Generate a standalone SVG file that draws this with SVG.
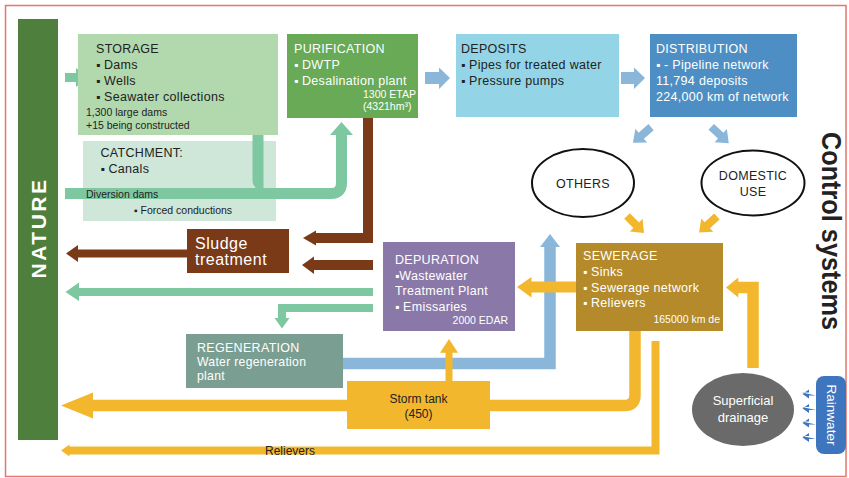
<svg xmlns="http://www.w3.org/2000/svg" width="849" height="478" viewBox="0 0 849 478">
<style>
text{font-family:"Liberation Sans",Arial,sans-serif;font-size:12.5px;letter-spacing:0.3px;fill:#222}
.s{font-size:10.5px;letter-spacing:0}
.w{fill:#fff}
.b{font-size:12px;letter-spacing:0}
.gr{fill:#7ec8a1}.grs{stroke:#7ec8a1;fill:none}
.bl{fill:#8ab6d9}.bls{stroke:#8ab6d9;fill:none}
.br{fill:#7a3a17}.brs{stroke:#7a3a17;fill:none}
.or{fill:#f2b72c}.ors{stroke:#f2b72c;fill:none}
</style>
<defs>
<path id="da" d="M-12,-4 H1 V-9 L12,0 L1,9 V4 H-12 Z"/>
<path id="ra" d="M-7,-1.5 H0 V-4.5 L-6.5,0 L0,4.5 V1.5 H7 Z"/>
</defs>
<rect x="5.5" y="5.5" width="840.5" height="471" fill="none" stroke="#e2776b" stroke-width="1.5"/>

<g id="connectors">
<polygon class="gr" points="65,73 76,73 76,68 88,77.5 76,87 76,82 65,82"/>
<path class="grs" stroke-width="11" d="M65,193.5 H331 Q341.5,193.5 341.5,183 V134"/>
<polygon class="gr" points="330,135 341.5,122 353,135"/>
<polygon class="bl" points="425,72 439,72 439,67.5 450,78 439,89 439,84 425,84"/>
<polygon class="bl" points="621,72 634,72 634,67.5 645,78 634,89 634,84 621,84"/>
<use href="#da" class="bl" transform="translate(642,135) rotate(139)"/>
<use href="#da" class="bl" transform="translate(720,135) rotate(43)"/>
<use href="#da" class="or" transform="translate(635.5,224.5) rotate(45)"/>
<use href="#da" class="or" transform="translate(708,224.5) rotate(138)"/>
<path class="brs" stroke-width="10" d="M368,118 V238 H315"/>
<polygon class="br" points="316,230.5 303,238 316,245.5"/>
<polygon class="br" points="373,260 314,260 314,256.5 302,265 314,274 314,270 373,270"/>
<polygon class="br" points="187,249.5 78,249.5 78,245 66,253.5 78,262 78,257.5 187,257.5"/>
<polygon class="gr" points="373,288 79,288 79,282.5 65.5,292 79,301 79,296 373,296"/>
<path class="grs" stroke-width="8" d="M373,308 H282 V319"/>
<polygon class="gr" points="274.5,318 282,328.5 289.5,318"/>
<path class="bls" stroke-width="11.5" d="M343,363.5 H550 V246"/>
<polygon class="bl" points="540,247 550,234 560,247"/>
<polygon class="or" points="576,281.5 531.5,281.5 531.5,277 517,287 531.5,297.5 531.5,292.5 576,292.5"/>
<rect class="or" x="445.5" y="351" width="7" height="31"/>
<polygon class="or" points="440,352.7 449,339 458,352.7"/>
<path class="ors" stroke-width="11.5" d="M635,331 V395 Q635,405.5 624.5,405.5 H92"/>
<polygon class="or" points="93,392.5 61,405.5 93,418.5"/>
<path class="ors" stroke-width="8" d="M655.5,341 V450.5 H69"/>
<polygon class="or" points="69.5,444.5 61,450.5 69.5,456.5"/>
<path class="ors" stroke-width="11.5" d="M753,368 V287.5 H737"/>
<polygon class="or" points="738.3,277.5 726,287.5 738.3,297.5"/>
<use href="#ra" fill="#3d76bf" transform="translate(809,394)"/>
<use href="#ra" fill="#3d76bf" transform="translate(809,408.5)"/>
<use href="#ra" fill="#3d76bf" transform="translate(809,423)"/>
<use href="#ra" fill="#3d76bf" transform="translate(809,437.5)"/>
</g>

<g id="nature">
<rect x="18" y="19" width="40" height="421" fill="#4e7f3d"/>
<text class="w" transform="translate(45.5,228) rotate(-90)" text-anchor="middle" style="font-size:21px;font-weight:bold;letter-spacing:2.5px">NATURE</text>
</g>

<g id="storage">
<rect x="78" y="34" width="200" height="101" fill="#b2d8ae"/>
<text x="96" y="53">STORAGE</text>
<text x="96" y="69"><tspan class="b">▪</tspan> Dams</text>
<text x="96" y="85"><tspan class="b">▪</tspan> Wells</text>
<text x="96" y="101"><tspan class="b">▪</tspan> Seawater collections</text>
<text class="s" x="86" y="116">1,300 large dams</text>
<text class="s" x="86" y="128.5">+15 being constructed</text>
</g>

<g id="catchment">
<rect x="83" y="141" width="193" height="80" fill="#c5e3d1" fill-opacity="0.85"/>
<text x="100.5" y="157">CATCHMENT:</text>
<text x="100.5" y="173"><tspan class="b">▪</tspan> Canals</text>
<text class="s" x="134" y="213.5"><tspan class="b" style="font-size:10px">▪</tspan> Forced conductions</text>
</g>

<g id="diversion">
<path class="gr" d="M252.5,135 H263.5 V190 H261.5 A9,9 0 0 1 252.5,181 Z"/>
<rect class="gr" x="65" y="188" width="220" height="11"/>
<text class="s" x="86" y="197.5">Diversion dams</text>
</g>

<g id="purification">
<rect x="287" y="34" width="131" height="84" fill="#68aa56"/>
<text class="w" x="294" y="53">PURIFICATION</text>
<text class="w" x="294" y="69"><tspan class="b">▪</tspan> DWTP</text>
<text class="w" x="294" y="85"><tspan class="b">▪</tspan> Desalination plant</text>
<text class="s w" x="363" y="98">1300 ETAP</text>
<text class="s w" x="363" y="109.5">(4321hm³)</text>
</g>

<g id="deposits">
<rect x="456" y="34" width="163" height="83" fill="#93d5e6"/>
<text x="461" y="53">DEPOSITS</text>
<text x="461" y="69"><tspan class="b">▪</tspan> Pipes for treated water</text>
<text x="461" y="85"><tspan class="b">▪</tspan> Pressure pumps</text>
</g>

<g id="distribution">
<rect x="650" y="34" width="147" height="83" fill="#4d8fc4"/>
<text class="w" x="656" y="53">DISTRIBUTION</text>
<text class="w" x="656" y="69"><tspan class="b">▪</tspan> - Pipeline network</text>
<text class="w" x="656" y="85">11,794 deposits</text>
<text class="w" x="656" y="101">224,000 km of network</text>
</g>

<g id="others">
<ellipse cx="583" cy="183" rx="51" ry="34" fill="#fff" stroke="#111" stroke-width="2"/>
<text x="583" y="187.5" text-anchor="middle">OTHERS</text>
</g>

<g id="domestic">
<ellipse cx="753" cy="183" rx="51.5" ry="32.5" fill="#fff" stroke="#111" stroke-width="2"/>
<text x="753" y="180" text-anchor="middle">DOMESTIC</text>
<text x="753" y="195.5" text-anchor="middle">USE</text>
</g>

<g id="control">
<text transform="translate(822,132) rotate(90)" textLength="198" lengthAdjust="spacingAndGlyphs" style="font-size:27px;font-weight:bold;letter-spacing:0">Control systems</text>
</g>

<g id="sludge">
<rect x="187" y="229" width="102" height="44" fill="#7a3a17"/>
<text class="w" x="195" y="248.5" style="font-size:16px;letter-spacing:0.5px">Sludge</text>
<text class="w" x="195" y="264.5" style="font-size:16px;letter-spacing:0.5px">treatment</text>
</g>

<g id="depuration">
<rect x="383" y="242" width="132" height="89" fill="#8a79a8"/>
<text class="w" x="395" y="263.5">DEPURATION</text>
<text class="w" x="395" y="279.5"><tspan class="b">▪</tspan>Wastewater</text>
<text class="w" x="395" y="295">Treatment Plant</text>
<text class="w" x="395" y="311"><tspan class="b">▪</tspan> Emissaries</text>
<text class="s w" x="508" y="323.5" text-anchor="end">2000 EDAR</text>
</g>

<g id="regeneration">
<rect x="186" y="334" width="157" height="54" fill="#7a9e91"/>
<text class="w" x="197" y="351.5">REGENERATION</text>
<text class="w" x="197" y="366" style="font-size:12.2px">Water regeneration</text>
<text class="w" x="197" y="379.5" style="font-size:12.2px">plant</text>
</g>

<g id="sewerage">
<rect x="576" y="243" width="147" height="88" fill="#b48a2a"/>
<text class="w" x="583" y="259.5">SEWERAGE</text>
<text class="w" x="583" y="275.5"><tspan class="b">▪</tspan> Sinks</text>
<text class="w" x="583" y="291.5"><tspan class="b">▪</tspan> Sewerage network</text>
<text class="w" x="583" y="307"><tspan class="b">▪</tspan> Relievers</text>
<text class="s w" x="720" y="322.5" text-anchor="end">165000 km de</text>
</g>

<g id="stormtank">
<rect x="347" y="381" width="143" height="48" fill="#f2b72c"/>
<text x="418.5" y="402.7" text-anchor="middle" style="font-size:12px;letter-spacing:0">Storm tank</text>
<text x="418.5" y="418.3" text-anchor="middle" style="font-size:12px;letter-spacing:0">(450)</text>
</g>

<g id="relievers-label">
<text x="290" y="454.5" text-anchor="middle" style="font-size:12px;letter-spacing:0">Relievers</text>
</g>

<g id="superficial">
<ellipse cx="743" cy="409.5" rx="51" ry="36.5" fill="#6b6a6a"/>
<text class="w" x="743" y="405" text-anchor="middle" style="font-size:13px;letter-spacing:0">Superficial</text>
<text class="w" x="743" y="421.5" text-anchor="middle" style="font-size:13px;letter-spacing:0">drainage</text>
</g>

<g id="rainwater">
<rect x="816" y="376" width="30" height="78" rx="8" fill="#3d76bf"/>
<text class="w" transform="translate(826.5,415) rotate(90)" text-anchor="middle" style="font-size:13.5px;letter-spacing:0">Rainwater</text>
</g>
</svg>
